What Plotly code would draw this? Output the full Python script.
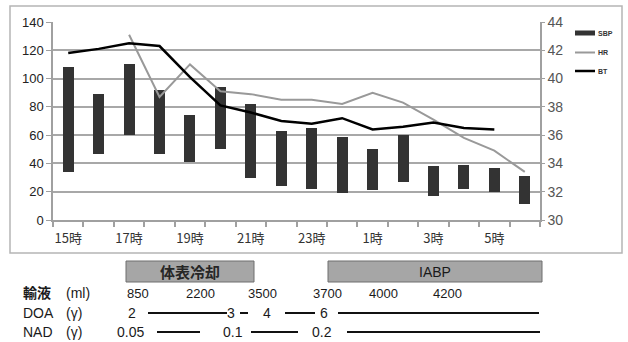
import plotly.graph_objects as go

# ---------------- data ----------------
hours = ["15時", "16時", "17時", "18時", "19時", "20時", "21時", "22時",
         "23時", "0時", "1時", "2時", "3時", "4時", "5時", "6時"]
sbp_high = [108, 89, 110, 92, 74, 94, 82, 63, 65, 59, 50, 60, 38, 39, 37, 31]
sbp_low = [34, 47, 60, 47, 41, 50, 30, 24, 22, 19, 21, 27, 17, 22, 20, 11]
hr = [None, None, 131, 87, 110, 91, 89, 85, 85, 82, 90, 83, 71, 58, 49, 34]
bt = [41.8, 42.1, 42.5, 42.3, 40.1, 38.1, 37.6, 37.0, 36.8, 37.2, 36.4,
      36.6, 36.9, 36.5, 36.4, None]
series_names = ["SBP", "HR", "BT"]
left_ticks = [0, 20, 40, 60, 80, 100, 120, 140]
right_ticks = [30, 32, 34, 36, 38, 40, 42, 44]

therapies = ["体表冷却", "IABP"]
fluid_ml = ["850", "2200", "3500", "3700", "4000", "4200"]
doa = ["2", "3", "4", "6"]
nad = ["0.05", "0.1", "0.2"]
row_labels = [("輸液", "(ml)"), ("DOA", "(γ)"), ("NAD", "(γ)")]

# ---------------- layout helpers ----------------
W, H = 628, 342
L, R, T, B = 53, 540, 22, 220   # plot area in pixels


def px(x):
    return (x - L) / (R - L)


def py(y):
    return (B - y) / (B - T)


NUM_FONT = "Liberation Sans, Arial, Noto Sans CJK JP, sans-serif"
JP_FONT = "Noto Sans CJK JP, Liberation Sans, sans-serif"
COL_BAR = "#333333"
COL_HR = "#999999"
COL_BT = "#000000"

xs = list(range(len(hours)))

fig = go.Figure()
fig.add_trace(go.Bar(
    x=xs, y=[h - l for h, l in zip(sbp_high, sbp_low)], base=sbp_low,
    marker=dict(color=COL_BAR, line=dict(width=0)), width=0.36,
    name=series_names[0], showlegend=False))
fig.add_trace(go.Scatter(x=xs, y=hr, mode="lines", name=series_names[1],
                         line=dict(color=COL_HR, width=2), showlegend=False))
fig.add_trace(go.Scatter(x=xs, y=bt, mode="lines", name=series_names[2],
                         yaxis="y2", line=dict(color=COL_BT, width=2.5),
                         showlegend=False))

shapes = []
annotations = []


def text(x, y, s, size=13, family=NUM_FONT, color="#1a1a1a", xanchor="center"):
    annotations.append(dict(xref="paper", yref="paper", x=px(x), y=py(y),
                            xanchor=xanchor, yanchor="middle", text=s,
                            showarrow=False,
                            font=dict(family=family, size=size, color=color)))


def hline(x0, x1, y, color="#111111", width=2):
    shapes.append(dict(type="line", xref="paper", yref="paper",
                       x0=px(x0), x1=px(x1), y0=py(y), y1=py(y),
                       line=dict(color=color, width=width)))


# outer frame
shapes.append(dict(type="rect", xref="paper", yref="paper",
                   x0=px(10), x1=px(622), y0=py(253), y1=py(6),
                   line=dict(color="#b5b5b5", width=1.5), layer="below"))

# manual legend
leg_y = [33, 52.5, 71]
leg_style = [(COL_BAR, 5), (COL_HR, 2), (COL_BT, 2.5)]
for name, yy, (c, w) in zip(series_names, leg_y, leg_style):
    hline(575, 595, yy, color=c, width=w)
    text(596, yy, "<b>%s</b>" % name, size=7, color="#333333", xanchor="left")

# therapy boxes
box_px = [(126, 254), (328, 542)]
for (x0, x1), name in zip(box_px, therapies):
    shapes.append(dict(type="rect", xref="paper", yref="paper",
                       x0=px(x0), x1=px(x1), y0=py(282), y1=py(261),
                       fillcolor="#a6a6a6", line=dict(color="#6e6e6e", width=1)))
    if name == "IABP":
        text((x0 + x1) / 2, 271.5, name, size=14)
    else:
        text((x0 + x1) / 2, 271.5, "<b>%s</b>" % name, size=15, family=JP_FONT,
             color="#262626")

# row labels
row_y = [293, 313, 332]
for (a, b), yy in zip(row_labels, row_y):
    text(21, yy, ("<b>%s</b>" % a) if a == "輸液" else a, size=14, xanchor="left")
    text(64, yy, b, size=14, xanchor="left")

# fluid values
fluid_x = [138, 200, 262, 327, 383, 447]
for v, xx in zip(fluid_ml, fluid_x):
    text(xx, row_y[0], v)

# DOA
doa_x = [132, 231, 267, 324]
for v, xx in zip(doa, doa_x):
    text(xx, row_y[1], v, size=14)
for x0, x1 in [(148, 227), (240, 248), (285, 315), (338, 539)]:
    hline(x0, x1, row_y[1])

# NAD
nad_x = [130, 233, 322]
for v, xx in zip(nad, nad_x):
    text(xx, row_y[2], v, size=14)
for x0, x1 in [(157, 200), (251, 298), (347, 540)]:
    hline(x0, x1, row_y[2])

fig.update_layout(
    width=W, height=H,
    margin=dict(l=L, r=W - R, t=T, b=H - B, pad=0, autoexpand=False),
    paper_bgcolor="white", plot_bgcolor="white",
    showlegend=False,
    bargap=0,
    xaxis=dict(range=[-0.5, len(hours) - 0.5], tickmode="array",
               tickvals=xs[::2], ticktext=hours[::2], ticks="",
               ticklabelstandoff=6,
               showgrid=False, zeroline=False,
               showline=True, linecolor="#a0a0a0", linewidth=1.5,
               tickfont=dict(family=JP_FONT, size=13, color="#333333"),
               minor=dict(tickmode="array",
                          tickvals=[i - 0.5 for i in range(len(hours) + 1)],
                          ticks="outside", ticklen=5, tickcolor="#a0a0a0",
                          tickwidth=1.5, showgrid=False),
               automargin=False, fixedrange=True),
    yaxis=dict(range=[0, 140], tickmode="array", tickvals=left_ticks,
               showgrid=True, gridcolor="#a8a8a8", gridwidth=1.5,
               zeroline=False, showline=True, linecolor="#a0a0a0", linewidth=1.5,
               ticks="outside", ticklen=5, tickcolor="#a0a0a0",
               automargin=False,
               tickfont=dict(family=NUM_FONT, size=13, color="#222222")),
    yaxis2=dict(range=[30, 44], tickmode="array", tickvals=right_ticks,
                overlaying="y", side="right", showgrid=False, zeroline=False,
                showline=True, linecolor="#a0a0a0", linewidth=1.5,
                ticks="outside", ticklen=3, tickcolor="#a0a0a0",
                automargin=False,
                tickfont=dict(family=NUM_FONT, size=14, color="#555555")),
    shapes=shapes,
    annotations=annotations,
)

fig.write_html("out.html", config={"displayModeBar": False},
               post_script="document.body.style.margin='0px';"
                           "document.body.style.overflow='hidden';")
